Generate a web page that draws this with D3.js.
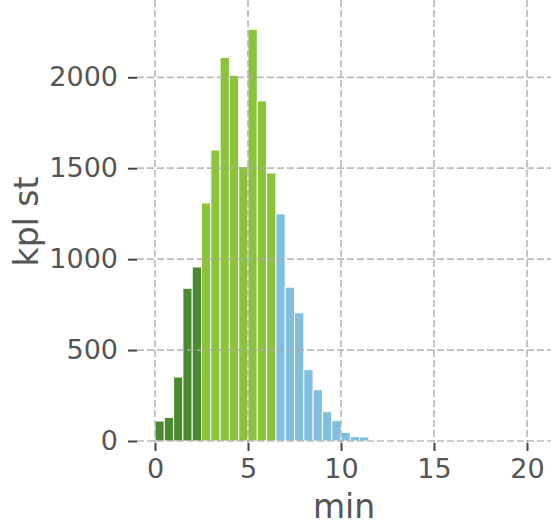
<!DOCTYPE html>
<html><head><meta charset="utf-8">
<script src="https://cdn.jsdelivr.net/npm/d3@7"></script>
<style>body{margin:0;background:#fff}svg{display:block}</style>
</head><body>
<script>
const binStarts = [0,0.5,1,1.5,2,2.5,3,3.5,4,4.5,5,5.5,6,6.5,7,7.5,8,8.5,9,9.5,10,10.5,11];
const counts = [110,130,352,840,957,1309,1600,2110,2011,1509,2264,1870,1474,1249,846,705,392,282,161,112,47,24,22];
const binWidth = 0.5;
const xTicks = [0,5,10,15,20];
const yTicks = [0,500,1000,1500,2000];
const groupColors = {dark:"#4b8a2f", light:"#8bc43b", blue:"#80bfe0"};
function groupOf(s){ return s < 2.5 ? "dark" : (s < 6.5 ? "light" : "blue"); }

const W=551,H=525, L=137, R=551, T=0, B=443;
const svg=d3.select("body").append("svg").attr("width",W).attr("height",H);
const x=d3.scaleLinear().domain([-0.968,21.29]).range([L,R]);
const y=d3.scaleLinear().domain([-11,2425]).range([B,T]);

// bars
svg.append("g").selectAll("rect").data(binStarts).join("rect")
  .attr("x",(d)=>x(d)).attr("width",(d)=>x(d+binWidth)-x(d))
  .attr("y",(d,i)=>y(counts[i])).attr("height",(d,i)=>y(0)-y(counts[i]))
  .attr("fill",d=>groupColors[groupOf(d)])
  .attr("stroke","#fff").attr("stroke-width",1);

// grid
const grid=svg.append("g").attr("stroke","#aaaaaa").attr("stroke-opacity",0.8)
  .attr("stroke-width",1.7).attr("stroke-dasharray","7,3");
grid.selectAll(".gx").data(xTicks).join("line")
  .attr("x1",d=>x(d)).attr("x2",d=>x(d)).attr("y1",T).attr("y2",B);
grid.selectAll(".gy").data(yTicks).join("line")
  .attr("y1",d=>y(d)).attr("y2",d=>y(d)).attr("x1",L).attr("x2",R);

// axes
const xAxis=d3.axisBottom(x).tickValues(xTicks).tickSize(8).tickPadding(8).tickFormat(d3.format("d"));
const yAxis=d3.axisLeft(y).tickValues(yTicks).tickSize(9).tickPadding(10).tickFormat(d3.format("d"));
const gx=svg.append("g").attr("transform",`translate(0,${B})`).call(xAxis);
const gy=svg.append("g").attr("transform",`translate(${L},0)`).call(yAxis);
[gx,gy].forEach(g=>{
  g.select(".domain").remove();
  g.selectAll(".tick line").attr("stroke","#444").attr("stroke-width",2);
  g.selectAll(".tick text").attr("fill","#555").attr("font-family","DejaVu Sans").attr("font-size",27);
});

svg.append("text").attr("x",(L+R)/2).attr("y",518).attr("text-anchor","middle")
  .attr("font-family","DejaVu Sans").attr("font-size",33).attr("fill","#555").text("min");
svg.append("text").attr("transform",`translate(38,${(T+B)/2}) rotate(-90)`).attr("text-anchor","middle")
  .attr("font-family","DejaVu Sans").attr("font-size",33).attr("fill","#555").text("kpl st");
</script>
</body></html>
